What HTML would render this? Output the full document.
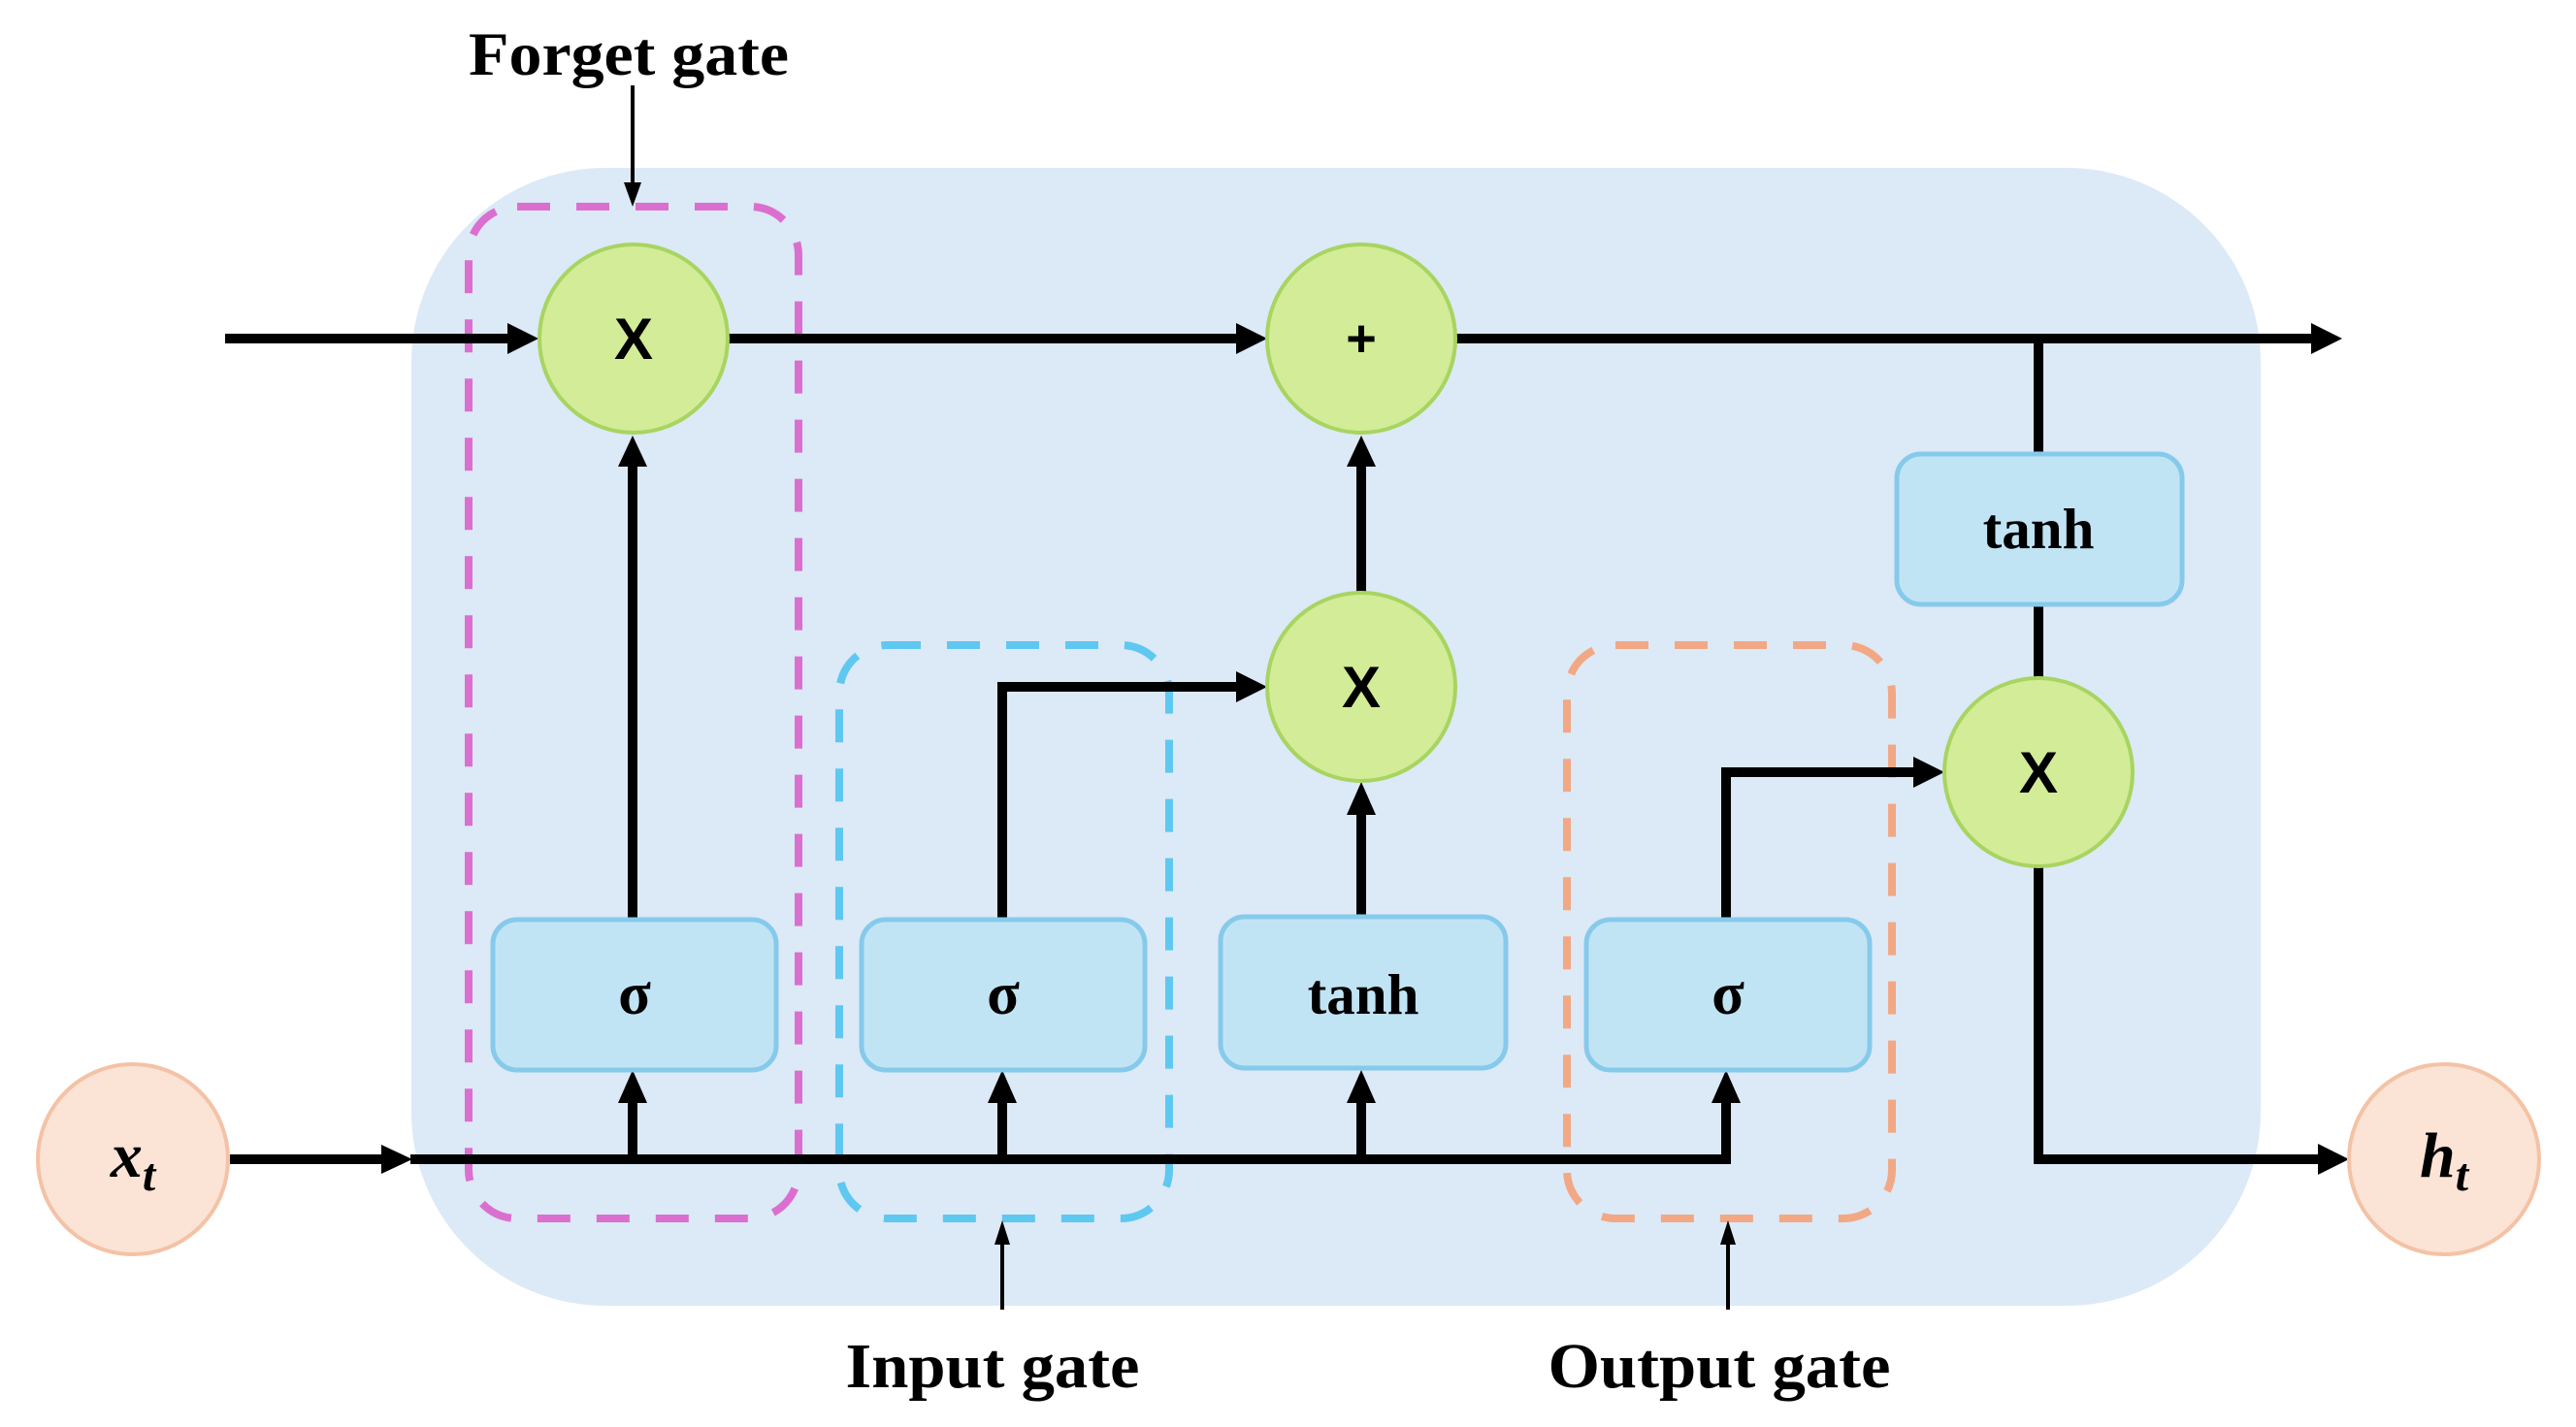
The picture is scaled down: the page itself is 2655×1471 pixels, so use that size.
<!DOCTYPE html>
<html><head><meta charset="utf-8"><style>
html,body{margin:0;padding:0;background:#fff;}
svg{display:block;}
</style></head><body>
<svg width="2655" height="1471" viewBox="0 0 2655 1471" xmlns="http://www.w3.org/2000/svg">
<!-- background -->
<rect x="424" y="173" width="1906" height="1173" rx="200" ry="200" fill="#dce9f6"/>

<!-- dashed gate boxes -->
<rect x="483" y="213" width="340" height="1043" rx="50" fill="none" stroke="#db6fcf" stroke-width="8" stroke-dasharray="34,27"/>
<rect x="865" y="665" width="340" height="591" rx="50" fill="none" stroke="#5ec8f0" stroke-width="8" stroke-dasharray="34,27"/>
<rect x="1615" y="665" width="335" height="591" rx="50" fill="none" stroke="#f2a884" stroke-width="8" stroke-dasharray="34,27"/>

<g stroke="#000" stroke-width="10" fill="none">
<line x1="232" y1="349" x2="525" y2="349"/>
<line x1="751" y1="349" x2="1276" y2="349"/>
<line x1="1501" y1="349" x2="2384" y2="349"/>
<line x1="237" y1="1195" x2="395" y2="1195"/>
<polyline points="423,1195 1779,1195 1779,1135"/>
<line x1="652" y1="1195" x2="652" y2="1135"/>
<line x1="1033" y1="1195" x2="1033" y2="1135"/>
<line x1="1403" y1="1195" x2="1403" y2="1135"/>
<line x1="652" y1="948" x2="652" y2="478"/>
<polyline points="1033,948 1033,708 1276,708"/>
<line x1="1403" y1="945" x2="1403" y2="838"/>
<line x1="1403" y1="611" x2="1403" y2="478"/>
<polyline points="1779,948 1779,796 1974,796"/>
<line x1="2101" y1="349" x2="2101" y2="469"/>
<line x1="2101" y1="621" x2="2101" y2="700"/>
<polyline points="2101,893 2101,1195 2392,1195"/>
</g>
<g stroke="#000" stroke-width="4">
<line x1="652" y1="88" x2="652" y2="190"/>
<line x1="1033" y1="1350" x2="1033" y2="1280"/>
<line x1="1781" y1="1350" x2="1781" y2="1280"/>
</g>
<g fill="#000">
<polygon points="555,349 523,333 523,365"/>
<polygon points="1306,349 1274,333 1274,365"/>
<polygon points="2414,349 2382,333 2382,365"/>
<polygon points="425,1195 393,1180 393,1210"/>
<polygon points="652,1103 637,1137 667,1137"/>
<polygon points="1033,1103 1018,1137 1048,1137"/>
<polygon points="1403,1103 1388,1137 1418,1137"/>
<polygon points="1779,1103 1764,1137 1794,1137"/>
<polygon points="652,449 637,481 667,481"/>
<polygon points="1306,708 1274,692 1274,724"/>
<polygon points="1403,806 1388,840 1418,840"/>
<polygon points="1403,449 1388,481 1418,481"/>
<polygon points="2004,796 1972,780 1972,812"/>
<polygon points="2421,1195 2389,1179 2389,1211"/>
<polygon points="652,213 643,188 661,188"/>
<polygon points="1033,1258 1025,1283 1041,1283"/>
<polygon points="1781,1258 1773,1283 1789,1283"/>
</g>

<g fill="#c1e4f5" stroke="#86caeb" stroke-width="5">
<rect x="508" y="948" width="292" height="155" rx="25"/>
<rect x="888" y="948" width="292" height="155" rx="25"/>
<rect x="1258" y="945" width="294" height="156" rx="25"/>
<rect x="1635" y="948" width="292" height="155" rx="25"/>
<rect x="1955" y="468" width="294" height="155" rx="25"/>
</g>
<g fill="#d2ec97" stroke="#a8d461" stroke-width="4">
<circle cx="653" cy="349" r="97"/>
<circle cx="1403" cy="349" r="97"/>
<circle cx="1403" cy="708" r="97"/>
<circle cx="2101" cy="796" r="97"/>
</g>
<g fill="#fbe3d6" stroke="#f4c2a5" stroke-width="4">
<circle cx="137" cy="1195" r="98"/>
<circle cx="2519" cy="1195" r="98"/>
</g>

<g font-family="Liberation Sans, sans-serif" font-weight="bold" text-anchor="middle" fill="#000">
<text x="653" y="370" font-size="60">X</text>
<text x="1403" y="367" font-size="54">+</text>
<text x="1403" y="729" font-size="60">X</text>
<text x="2101" y="817" font-size="60">X</text>
</g>
<g font-family="Liberation Serif, serif" font-weight="bold" text-anchor="middle" fill="#000">
<text x="654" y="1045" font-size="62">σ</text>
<text x="1034" y="1045" font-size="62">σ</text>
<text x="1781" y="1045" font-size="62">σ</text>
<text x="1405" y="1045" font-size="59">tanh</text>
<text x="2101" y="565" font-size="59">tanh</text>
<text x="137" y="1213" font-size="66" font-style="italic">x<tspan font-size="48" dy="14">t</tspan></text>
<text x="2519" y="1213" font-size="66" font-style="italic">h<tspan font-size="48" dy="14">t</tspan></text>
<text x="648" y="77" font-size="64" textLength="330" lengthAdjust="spacingAndGlyphs">Forget gate</text>
<text x="1023" y="1430" font-size="66" textLength="303" lengthAdjust="spacingAndGlyphs">Input gate</text>
<text x="1772" y="1430" font-size="66" textLength="353" lengthAdjust="spacingAndGlyphs">Output gate</text>
</g>
</svg>
</body></html>
